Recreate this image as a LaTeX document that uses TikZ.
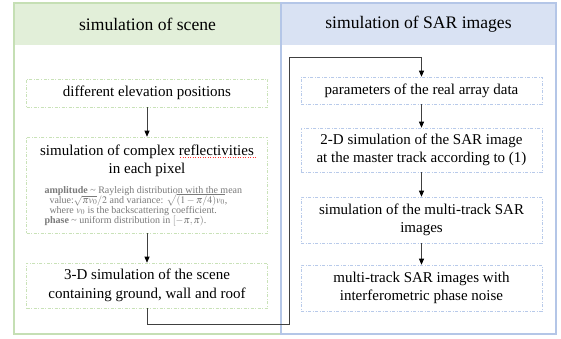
\documentclass[tikz,border=0pt]{standalone}
\usepackage{mathptmx}
\usepackage[no-math]{fontspec}
\setmainfont{Liberation Serif}
\usetikzlibrary{arrows.meta}
\definecolor{lborder}{HTML}{C5DFB4}
\definecolor{lhead}{HTML}{E2EFD9}
\definecolor{rborder}{HTML}{B4C6E7}
\definecolor{rhead}{HTML}{D9E2F3}
\definecolor{lboxc}{HTML}{C9E2B8}
\definecolor{rboxc}{HTML}{B8CAEA}
\definecolor{txtgray}{HTML}{7A7A7A}
\definecolor{linec}{HTML}{404040}
\begin{document}
\begin{tikzpicture}[x=1pt,y=-1pt,
  panelL/.style={draw=lborder,line width=1.1pt},
  panelR/.style={draw=rborder,line width=1.1pt},
  headtext/.style={font=\fontsize{17.6}{20}\selectfont,inner sep=0pt},
  boxbase/.style={line width=0.6pt,dash pattern=on 3pt off 1.5pt on 1pt off 1.5pt,
    minimum width=241pt,inner sep=0pt,align=center,font=\fontsize{15}{18.5}\selectfont},
  lbox/.style={boxbase,draw=lboxc},
  rbox/.style={boxbase,draw=rboxc},
  arr/.style={draw=linec,line width=0.7pt,-{Triangle[length=6pt,width=5pt,black]}},
]
\useasboundingbox (0,0) rectangle (561,338);
\fill[white] (0,0) rectangle (561,338);
\fill[lhead] (14,3) rectangle (281,45);
\fill[rhead] (281,3) rectangle (556,45);
\draw[panelL] (14,3) rectangle (281,334);
\draw[panelR] (281,3) rectangle (556,334);
\node[headtext] (hL) at (147.5,24) {simulation of scene};
\node[headtext] (hR) at (418.5,24) {simulation of SAR images};

\node[lbox,minimum height=28pt] (elev) at (147,93) {different elevation positions};
\node[lbox,minimum height=96pt] (cplx) at (147,185) {simulation of complex reflectivities\\in each pixel\\[1pt]%
\parbox[t]{205pt}{\raggedright\fontsize{10}{10}\selectfont\lineskiplimit=-\maxdimen\leavevmode\color{txtgray}%
\textbf{amplitude} \textasciitilde{} Rayleigh distribution with the mean\\
\hspace*{5pt}value:$\sqrt{\pi v_0}/2$ and variance: $\sqrt{(1-\pi/4)v_0}$,\\
\hspace*{5pt}where $v_0$ is the backscattering coefficient.\\
\textbf{phase} \textasciitilde{} uniform distribution in $[-\pi,\pi)$.}};
\node[lbox,minimum height=45pt] (scene) at (147,285.5) {3-D simulation of the scene\\containing ground, wall and roof};

\node[rbox,minimum height=27pt] (params) at (421.5,90.5) {parameters of the real array data};
\node[rbox,minimum height=44pt] (sar2d) at (421.5,150) {2-D simulation of the SAR image\\at the master track according to (1)};
\node[rbox,minimum height=46pt] (multi) at (421.5,220) {simulation of the multi-track SAR\\images};
\node[rbox,minimum height=46pt] (noise) at (421.5,288) {multi-track SAR images with\\interferometric phase noise};

\coordinate (c2) at (289,57);
\draw[arr] (elev.south) -- (cplx.north);
\draw[arr] (cplx.south) -- (scene.north);
\draw[arr] (scene.south) -- ++(0,16) -| (c2) -| (params.north);
\draw[arr] (params.south) -- (sar2d.north);
\draw[arr] (sar2d.south) -- (multi.north);
\draw[arr] (multi.south) -- (noise.north);
\draw[red!80,line width=0.5pt,dotted] (180,157.5) -- (256,157.5);
\end{tikzpicture}
\end{document}
